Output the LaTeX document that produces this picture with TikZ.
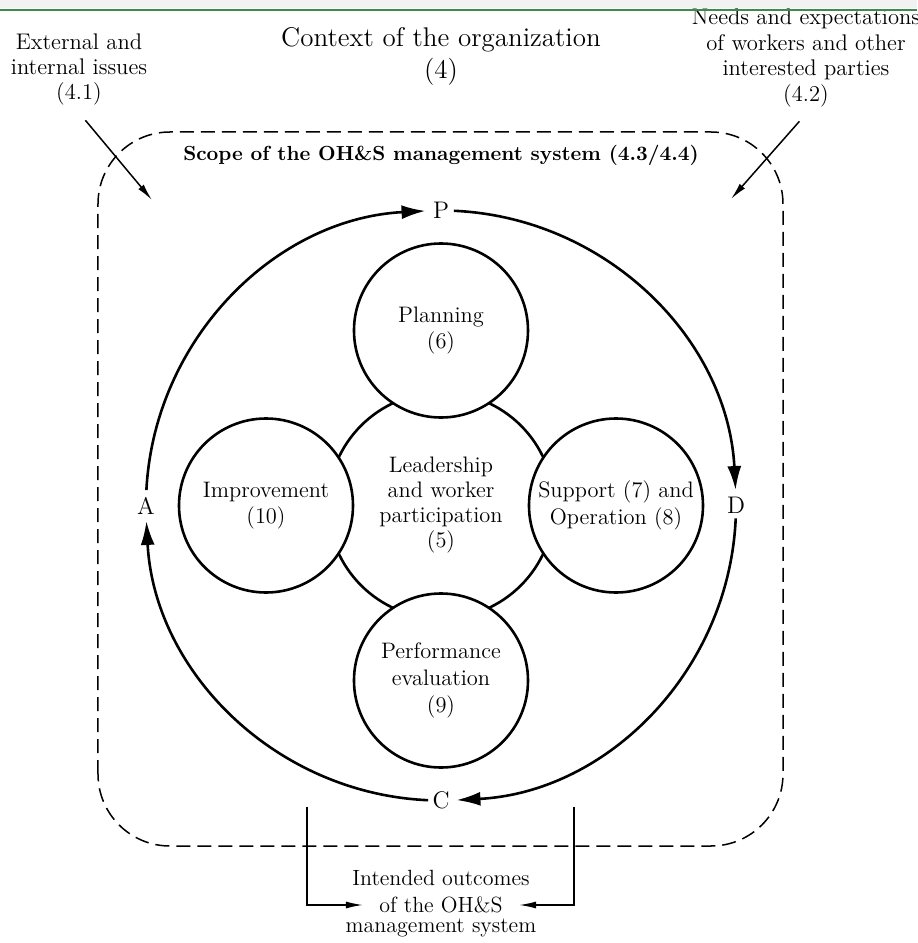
\documentclass[tikz,border=0pt]{standalone}
\usetikzlibrary{arrows.meta,positioning}
\begin{document}
\begin{tikzpicture}[
        x=0.5pt,
        y=0.5pt,
        stage/.style={
            circle,
            draw,
            fill=white,
            line width=1.3pt,
            minimum size=87pt,
            inner sep=0pt,
            align=center,
            font=\fontsize{11.2}{13.3}\selectfont
          },
        core/.style={
            circle,
            draw,
            line width=1.3pt,
            minimum size=113pt,
            inner sep=0pt,
            align=center,
            font=\fontsize{11.2}{12.5}\selectfont
          },
        pdca/.style={
            inner sep=1.5pt,
            font=\fontsize{12}{14}\selectfont
          },
        cyclearrow/.style={
            line width=1.3pt,
            -{Latex[length=12pt,width=7pt]}
          },
        issue/.style={
            align=center,
            font=\fontsize{11.3}{12.7}\selectfont
          },
        outtext/.style={
            inner ysep=0pt,
            inner xsep=8pt,
            font=\fontsize{11}{12.5}\selectfont
          },
        pointer/.style={
            line width=0.75pt,
            -{Latex[length=8.5pt,width=3.5pt]}
          }]
        % Define colors
        \definecolor{topgreen}{RGB}{62,138,76}
        \definecolor{topgray}{RGB}{242,242,242}

        % Page size
        \useasboundingbox (-441,-437.5) rectangle (476,505.5);
        \clip (-441,-437.5) rectangle (476,505.5);

        % Context labels
        \node[align=center, font=\fontsize{13.5}{16}\selectfont] (context) at (0,449.5) {Context of the organization\\(4)};
        \node[issue] (extiss) at (-362,436) {External and\\internal issues\\(4.1)};
        \node[issue] (needs) at (365,447.5) {Needs and expectations\\of workers and other\\interested parties\\(4.2)};

        % Top rule
        \fill[topgray] (-441,497.5) rectangle (476,505.5);
        \draw[topgreen, line width=1.2pt] (-441,495.5) -- (476,495.5);

        % Scope frame
        \draw[line width=0.75pt, dash pattern=on 7pt off 3.5pt, rounded corners=36pt] (-343,-340.5) rectangle (342,373.5);
        \node[font=\bfseries\fontsize{10.2}{12}\selectfont] (scope) at (0,350.5) {Scope of the OH\&S management system (4.3/4.4)};

        % Issue arrows
        \coordinate (extend) at (-289,305.5);
        \coordinate (needend) at (290,306.5);
        \draw[pointer, shorten <=5pt] (extiss.south) -- (extend);
        \draw[pointer, shorten <=5pt] (needs.south) -- (needend);

        % Circles
        \node[core] (lead) at (0,0) {Leadership\\and worker\\participation\\(5)};
        \node[stage] (plan) at (0,175) {Planning\\(6)};
        \node[stage] (improve) at (-175,0) {Improvement\\(10)};
        \node[stage] (support) at (175,0) {Support (7) and\\Operation (8)};
        \node[stage] (perform) at (0,-175) {Performance\\evaluation\\(9)};

        % PDCA cycle
        \node[pdca] (P) at (0,295) {P};
        \node[pdca] (D) at (295,0) {D};
        \node[pdca] (C) at (0,-295) {C};
        \node[pdca] (A) at (-295,0) {A};
        \draw[cyclearrow] ([shift={(87.5:295)}]lead.center) arc[start angle=87.5, end angle=3, radius=295];
        \draw[cyclearrow] ([shift={(-2.5:295)}]lead.center) arc[start angle=-2.5, end angle=-87, radius=295];
        \draw[cyclearrow] ([shift={(-92.5:295)}]lead.center) arc[start angle=-92.5, end angle=-177, radius=295];
        \draw[cyclearrow] ([shift={(177:295)}]lead.center) arc[start angle=177, end angle=93, radius=295];

        % Outcomes
        \node[outtext] (outmid) at (0,-399.5) {of the OH\&S};
        \node[outtext] (outtop) at (0,-372.5) {Intended outcomes};
        \node[outtext] (outbot) at (0,-422.5) {management system};
        \coordinate (outleft) at (-134,-301);
        \coordinate (outright) at (133,-301);
        \draw[pointer] (outleft) |- (outmid.west);
        \draw[pointer] (outright) |- (outmid.east);
    \end{tikzpicture}
\end{document}
